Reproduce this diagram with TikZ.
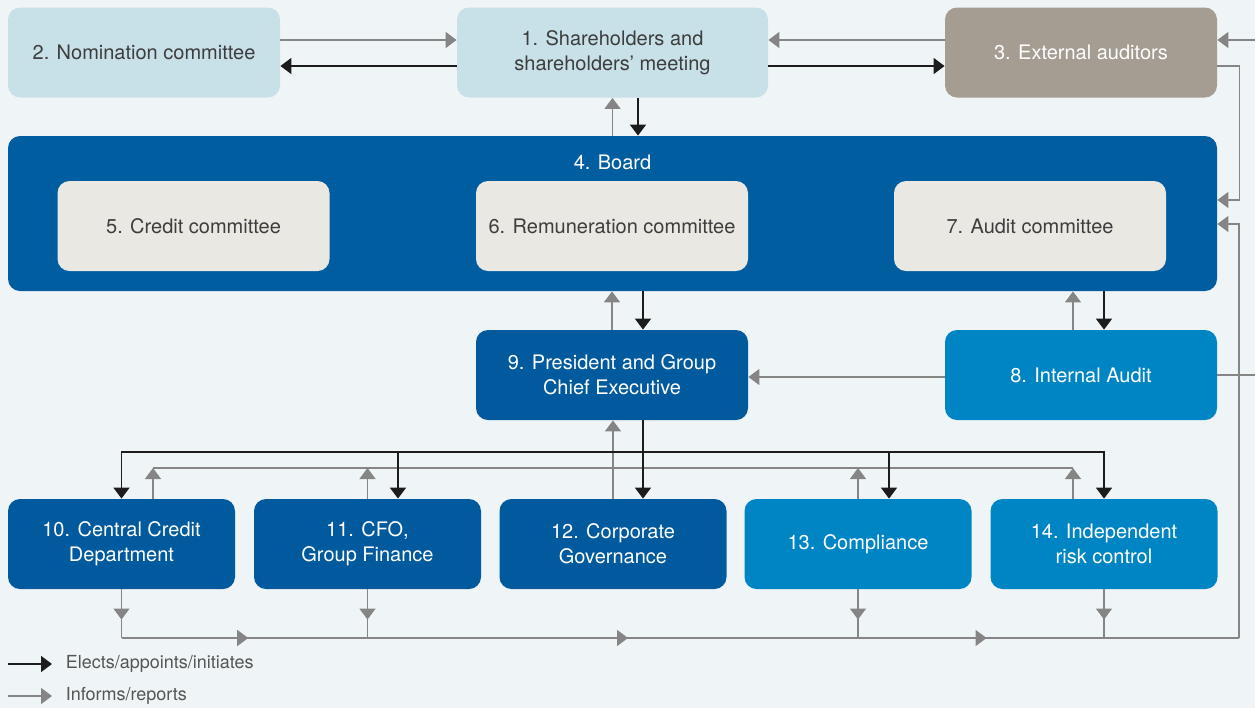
\documentclass[tikz,border=0pt]{standalone}
\usepackage{fontspec}
\setmainfont{TeX Gyre Heros}
\usetikzlibrary{arrows.meta}
\usetikzlibrary{calc}
\usetikzlibrary{decorations.markings}
\tikzset{>={Triangle[length=5.5pt,width=8pt]}}
\definecolor{bgcol}{HTML}{EFF5F6}
\definecolor{paleblue}{HTML}{C8E0E7}
\definecolor{taupe}{HTML}{A59C92}
\definecolor{boardblue}{HTML}{005DA0}
\definecolor{stone}{HTML}{EAE8E3}
\definecolor{navy}{HTML}{005A9D}
\definecolor{cyanblue}{HTML}{0085C4}
\definecolor{informgray}{HTML}{858585}
\definecolor{electblack}{HTML}{1C1C1C}
\definecolor{textgray}{HTML}{3D3D3D}
\definecolor{keygray}{HTML}{555555}
\tikzset{
  box/.style={rounded corners=6pt,inner sep=0pt,minimum width=136pt,minimum height=45pt,
              align=center,font=\fontsize{10}{12.5}\selectfont},
  committee/.style={box,fill=stone,text=textgray},
  unit/.style={box,minimum width=113.5pt,text=white},
  elects/.style={line width=0.9pt,electblack,->},
  reports/.style={line width=0.75pt,informgray,->},
  report flow/.style={line width=0.75pt,informgray,decoration={markings,
                      mark=at position #1 with {\arrow{>}}},
                      postaction={decorate}},
  report flow/.default=0.5,
  legend/.style={inner sep=0pt,keygray,font=\fontsize{9}{11}\selectfont}}

\begin{document}
\begin{tikzpicture}[x=0.5pt,y=-0.5pt]
  \def\W{1255}
  \def\H{708}
  \def\rail{1239}
  \fill[bgcol] (0,0) rectangle (\W,\H);
  \useasboundingbox (0,0) rectangle (\W,\H);

  % TOP ROW
  \node[box,fill=paleblue,text=textgray] (nomination) at (144,52.5) {2. Nomination committee};
  \node[box,fill=paleblue,text=textgray,minimum width=155.5pt] (shareholders) at (612.5,52.5) {1. Shareholders and\\shareholders’ meeting};
  \node[box,fill=taupe,text=white] (auditors) at (1081,52.5) {3. External auditors};

  % BOARD
  \node[box,fill=boardblue,minimum width=604.5pt,minimum height=77.5pt] (board) at (612.5,213.5) {};
  \node[box,minimum width=0pt,minimum height=0pt,text=white] (board label) at (612.5,162) {4. Board};
  \node[committee] (credit) at (193.5,226) {5. Credit committee};
  \node[committee] (remuneration) at (612,226) {6. Remuneration committee};
  \node[committee] (audit committee) at (1030,226) {7. Audit committee};

  % MANAGEMENT
  \node[box,fill=navy,text=white] (ceo) at (612,375) {9. President and Group\\Chief Executive};
  \node[box,fill=cyanblue,text=white] (internal) at (1081,375) {8. Internal Audit};

  % UNITS
  \node[unit,fill=navy] (credit dept) at (121.5,544) {10. Central Credit\\Department};
  \node[unit,fill=navy] (finance) at (367.5,544) {11. CFO,\\Group Finance};
  \node[unit,fill=navy] (governance) at (613,544) {12. Corporate\\Governance};
  \node[unit,fill=cyanblue] (compliance) at (858,544) {13. Compliance};
  \node[unit,fill=cyanblue] (risk) at (1104,544) {14. Independent\\risk control};

  % TOP ROW ARROWS
  \draw[reports] ($(nomination.east)+(0,-12.5)$) -- ($(shareholders.west)+(0,-12.5)$);
  \draw[elects] ($(shareholders.west)+(0,13.5)$) -- ($(nomination.east)+(0,13.5)$);
  \draw[elects] ($(shareholders.east)+(0,13.5)$) -- ($(auditors.west)+(0,13.5)$);
  \draw[reports] ($(auditors.west)+(0,-12.5)$) -- ($(shareholders.east)+(0,-12.5)$);
  \coordinate (edge top) at (\W,40);
  \draw[reports] (edge top) -- (edge top -| auditors.east);
  \draw[reports] ($(auditors.east)+(0,13.5)$) -| ($(board.east)+(22,-13.5)$) -- ($(board.east)+(0,-13.5)$);

  % BOARD ARROWS
  \draw[reports] (board.north) -- (shareholders.south);
  \draw[elects] ($(shareholders.south)+(25.5,0)$) -- ($(board.north)+(25.5,0)$);
  \draw[reports] (ceo.north) -- (ceo.north |- board.south);
  \draw[elects] ($(board.south)+(30.5,0)$) -- ($(ceo.north)+(31,0)$);
  \coordinate (ia up) at ($(internal.north)+(-8,0)$);
  \coordinate (ia down) at ($(internal.north)+(23,0)$);
  \draw[reports] (ia up) -- (ia up |- board.south);
  \draw[elects] (ia down |- board.south) -- (ia down);
  \draw[reports] ($(internal.west)+(0,2)$) -- ($(ceo.east)+(0,2)$);
  \coordinate (edge mid) at (\W,375);
  \draw[reports,-] (internal.east) -- (edge mid);

  % CEO - UNITS
  \coordinate (order) at (643,452);
  \coordinate (collect) at (612,468);
  \coordinate (ceo down) at ($(ceo.south)+(31,0)$);
  \coordinate (rep a) at ($(credit dept.north)+(31.5,0)$);
  \coordinate (rep b) at (finance.north);
  \coordinate (rep c) at (compliance.north);
  \coordinate (rep d) at ($(risk.north)+(-31,0)$);
  \draw[reports,-] (rep a |- collect) -- (rep d |- collect);
  \foreach \r in {rep a,rep b,rep c,rep d}
    \draw[reports] (\r) -- (\r |- collect);
  \draw[reports] (governance.north) -- (governance.north |- ceo.south);
  \draw[elects] (ceo down) -- (ceo down |- governance.north);
  \draw[elects] (order) -| (credit dept.north);
  \draw[elects] (order) -| ($(finance.north)+(30.5,0)$);
  \draw[elects] (order) -| ($(compliance.north)+(31,0)$);
  \draw[elects] (order) -| (risk.north);

  % BOTTOM LINE
  \coordinate (bus) at (122,638);
  \coordinate (bus end) at (\rail,638);
  \foreach \n in {credit dept,finance,compliance,risk}
    \draw[report flow=0.62] (\n.south) -- (\n.south |- bus);
  \draw[line width=0.75pt,informgray,decoration={markings,
        mark=at position 0.113 with {\arrow{>}},
        mark=at position 0.453 with {\arrow{>}},
        mark=at position 0.774 with {\arrow{>}}},postaction={decorate}] (bus) -- (bus end);
  \draw[reports] (bus end) |- ($(board.east)+(0,10.5)$);

  % LEGEND
  \coordinate (key a) at (8,664);
  \coordinate (key b) at (8,696);
  \draw[elects] (key a) -- ++(44,0) node[legend,right=6.5pt] (key elects) {Elects/appoints/initiates};
  \draw[reports] (key b) -- ++(44,0) node[legend,right=6.5pt] (key reports) {Informs/reports};
\end{tikzpicture}
\end{document}
